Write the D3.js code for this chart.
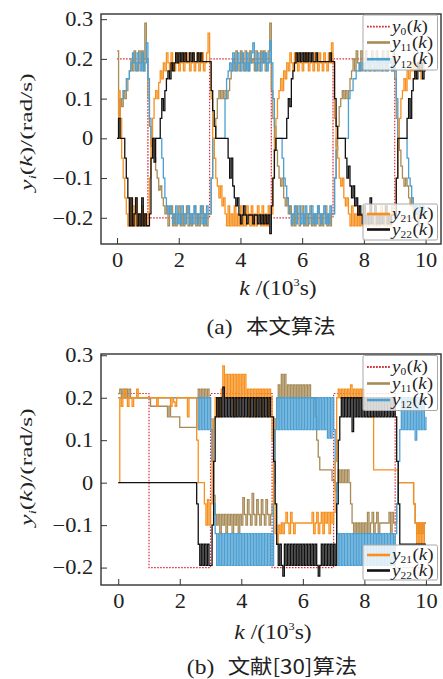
<!DOCTYPE html>
<html><head><meta charset="utf-8">
<script src="https://cdn.jsdelivr.net/npm/d3@7"></script>
<style>body{margin:0;background:#fff} svg{display:block}</style>
</head><body>
<svg id="c" width="443" height="679"></svg>
<script>
// ---------- data ----------
const kStep = 0.05;                       // sampling step of the series, in 10^3 s
const xTicks = [0, 2, 4, 6, 8, 10];
const xTickLabels = ["0", "2", "4", "6", "8", "10"];
const yTicks = [-0.2, -0.1, 0, 0.1, 0.2, 0.3];
const yTickLabels = ["\u22120.2", "\u22120.1", "0", "0.1", "0.2", "0.3"];
const refTimes = [0, 1, 3, 5, 7, 9, 10];
const seriesNames = ["0", "11", "12", "21", "22"];

// panel (a)
const y0_a = [0.2, -0.2, 0.2, -0.2, 0.2, -0.2, -0.2];
const y11_a = [
 .22,.06,.1,.08,.12, .1,.12,.15,.17,.2, .17,.22,.19,.17,.22, .19,.22,.17,.29,.2,
 .1,.03,-.02,0,-.05, -.08,-.1,-.13,-.12,-.15, -.17,-.19,-.17,-.22,-.19, -.17,-.22,-.19,-.22,-.19,
 -.17,-.22,-.19,-.22,-.19, -.17,-.22,-.19,-.22,-.19, -.17,-.22,-.19,-.22,-.19, -.17,-.22,-.19,-.22,-.19,
 -.19,-.1,-.05,0,.05, .1,.12,.1,.12,.1, .12,.1,.12,.15,.17, .2,.17,.22,.19,.17,
 .22,.19,.17,.22,.19, .17,.22,.19,.2,.17, .22,.19,.17,.22,.19, .22,.17,.19,.22,.29,
 .12,.05,0,-.03,-.07, -.1,-.12,-.1,-.15,-.17, -.15,-.19,-.17,-.22,-.19, -.22,-.17,-.19,-.22,-.19,
 -.17,-.22,-.19,-.22,-.19, -.17,-.22,-.19,-.22,-.19, -.17,-.22,-.19,-.22,-.19, -.17,-.22,-.19,-.22,-.19,
 -.19,-.1,-.03,.03,.08, .1,.12,.1,.12,.1, .12,.15,.17,.2,.17, .22,.19,.17,.22,.19,
 .17,.22,.19,.2,.17, .22,.19,.17,.22,.19, .2,.17,.22,.19,.17, .22,.19,.2,.17,.22,
 .15,.05,0,-.03,-.07, -.1,-.12,-.1,-.12,-.15, -.17,-.15,-.19,-.17,-.19, -.22,-.19,-.17,-.19,-.19,
 -.19];
const y12_a = [
 0,.05,.1,.1,.12, .12,.15,.15,.17,.19, .215,.19,.17,.215,.19, .17,.215,.17,.19,.24,
 .15,.05,0,0,0, 0,0,0,0,-.05, -.1,-.15,-.17,-.19,-.17, -.19,-.215,-.19,-.17,-.215,
 -.19,-.215,-.17,-.19,-.215, -.19,-.17,-.215,-.19,-.215, -.17,-.19,-.215,-.19,-.17, -.215,-.19,-.215,-.17,-.19,
 -.19,-.1,0,0,0, 0,0,0,0,0, .1,.15,.17,.19,.17, .215,.19,.17,.215,.19,
 .17,.215,.19,.17,.215, .17,.19,.215,.24,.19, .17,.215,.19,.17,.215, .19,.215,.17,.19,.245,
 .19,.1,.03,0,0, 0,0,-.05,-.1,-.12, -.15,-.17,-.19,-.215,-.19, -.17,-.215,-.19,-.17,-.215,
 -.19,-.215,-.17,-.19,-.215, -.19,-.17,-.215,-.19,-.215, -.17,-.19,-.215,-.19,-.17, -.215,-.19,-.215,-.17,-.19,
 -.19,-.1,0,0,0, 0,0,0,0,0, .1,.12,.12,.15,.15, .17,.17,.19,.17,.19,
 .19,.17,.2,.17,.19, .2,.17,.19,.2,.17, .19,.2,.17,.19,.2, .17,.19,.2,.17,.19,
 .17,.1,0,0,0, 0,0,0,-.05,-.1, -.12,-.15,-.17,-.19,-.17, -.19,-.17,-.19,-.17,-.19,
 -.19];
const y21_a = [
 0,.12,.05,-.05,-.1, -.15,-.19,-.22,-.15,-.22, -.17,-.22,-.15,-.22,-.19, -.22,-.17,-.22,-.19,-.22,
 -.19,-.1,0,.05,.1, .12,.1,.14,.17,.15, .19,.17,.215,.19,.17, .215,.19,.17,.215,.19,
 .17,.215,.19,.17,.215, .19,.215,.17,.19,.215, .17,.19,.215,.17,.19, .215,.17,.19,.215,.265,
 .19,.1,0,-.05,-.1, -.12,-.15,-.12,-.17,-.15, -.19,-.22,-.17,-.22,-.19, -.22,-.17,-.22,-.19,-.22,
 -.17,-.22,-.19,-.22,-.17, -.19,-.22,-.17,-.22,-.19, -.22,-.17,-.19,-.22,-.17, -.22,-.19,-.22,-.17,-.19,
 -.19,-.1,0,.05,.1, .12,.15,.12,.17,.15, .19,.17,.215,.19,.17, .215,.19,.17,.215,.19,
 .17,.215,.19,.215,.17, .19,.215,.17,.215,.19, .17,.215,.19,.17,.215, .19,.17,.215,.19,.24,
 .19,.05,-.02,-.05,-.1, -.12,-.1,-.15,-.17,-.15, -.19,-.22,-.17,-.22,-.19, -.22,-.17,-.22,-.19,-.22,
 -.17,-.22,-.19,-.22,-.17, -.19,-.22,-.17,-.22,-.19, -.22,-.17,-.19,-.22,-.17, -.22,-.19,-.22,-.17,-.19,
 -.19,-.1,0,.05,.1, .12,.15,.12,.17,.15, .19,.17,.19,.15,.19, .17,.19,.15,.19,.17,
 .17];
const y22_a = [
 0,.05,0,0,0, -.05,-.1,-.15,-.22,-.15, -.22,-.19,-.15,-.22,-.19, -.22,-.15,-.22,-.19,-.22,
 -.22,-.19,-.05,0,-.06, 0,0,0,.05,.1, .07,.12,.15,.17,.15, .19,.17,.19,.215,.19,
 .215,.193,.215,.193,.215, .193,.193,.215,.193,.215, .193,.193,.215,.193,.215, .193,.193,.193,.193,.193,
 .193,.12,.07,.03,0, 0,0,0,0,0, 0,0,-.05,-.1,-.05, -.12,-.15,-.17,-.15,-.193,
 -.215,-.193,-.17,-.193,-.215, -.193,-.193,-.193,-.215,-.193, -.193,-.215,-.193,-.215,-.193, -.215,-.193,-.215,-.193,-.24,
 -.17,-.1,-.03,0,0, 0,0,0,0,0, .05,.1,.08,.15,.17, .19,.215,.193,.215,.193,
 .215,.193,.215,.193,.215, .193,.215,.193,.193,.215, .193,.193,.193,.193,.193, .193,.193,.193,.215,.193,
 .193,.1,.03,0,0, 0,0,0,-.05,-.1, -.07,-.12,-.15,-.12,-.17, -.15,-.193,-.17,-.193,-.215,
 -.17,-.215,-.193,-.215,-.15, -.215,-.193,-.17,-.215,-.193, -.215,-.193,-.215,-.193,-.17, -.215,-.193,-.215,-.193,-.193,
 -.193,-.1,0,0,0, 0,0,0,.05,.1, .05,.12,.15,.17,.15, .19,.17,.19,.15,.17,
 .17];

// panel (b)
const y0_b = [0.21, -0.2, 0.21, -0.2, 0.21, -0.2, -0.2];
const y11_b = [
 .21,.22,.2,.22,.2, .22,.2,.22,.2,.2, .2,.2,.2,.2,.2, .2,.2,.2,.2,.2,
 .2,.18,.18,.18,.18, .18,.18,.18,.18,.18, .18,.18,.155,.18,.155, .155,.155,.155,.155,.155,
 .13,.13,.13,.13,.13, .13,.13,.13,.13,.13, .13,.2,.22,.2,.22, .2,.22,.2,.22,.2,
 .15,.05,-.03,-.075,-.1, -.075,-.118,-.075,-.1,-.075, -.118,-.075,-.1,-.075,-.118, -.075,-.1,-.075,-.118,-.075,
 -.1,-.035,-.075,-.1,-.04, -.075,-.1,-.025,-.075,-.1, -.04,-.075,-.1,-.04,-.075, -.1,-.04,-.075,-.1,-.075,
 -.05,.05,.15,.2,.23, .2,.255,.2,.255,.2, .23,.2,.23,.2,.23, .2,.23,.2,.23,.2,
 .23,.2,.23,.2,.23, .2,.2,.2,.155,.1, .06,.03,.03,.03,.03, .03,.03,.03,.03,.005,
 .005,-.02,0,.03,0, .03,0,.03,0,.03, 0,-.05,-.095,-.12,-.095, -.12,-.095,-.12,-.095,-.12,
 -.095,-.12,-.07,-.12,-.095, -.07,-.12,-.095,-.07,-.12, -.095,-.095,-.095,-.095,-.095, -.095,-.07,-.12,-.07,-.095,
 -.095,-.05,0,0,0, 0,0,0,0,0, 0,0,-.05,-.095,-.12, -.095,-.12,-.095,-.12,-.095,
 -.095];
const y12_b = [
 .2,.2,.2,.2,.2, .2,.2,.2,.2,.2, .2,.2,.2,.2,.2, .2,.2,.2,.2,.2,
 .2,.2,.2,.2,.2, .2,.2,.2,.2,.2, .2,.2,.2,.2,.2, .2,.2,.2,.2,.2,
 .2,.2,.2,.2,.2, .2,.2,.2,.2,.2, .2,.2,.125,.2,.125, .2,.125,.2,.125,.2,
 .125,.05,-.05,-.12,-.195, -.12,-.195,-.12,-.195,-.12, -.195,-.12,-.195,-.12,-.195, -.12,-.195,-.12,-.195,-.12,
 -.195,-.12,-.195,-.12,-.195, -.12,-.195,-.12,-.195,-.12, -.195,-.12,-.195,-.12,-.195, -.12,-.195,-.12,-.195,-.12,
 -.195,0,.125,.2,.125, .2,.125,.2,.125,.2, .125,.2,.125,.2,.125, .2,.125,.2,.125,.2,
 .125,.2,.125,.2,.125, .2,.125,.2,.125,.2, .125,.2,.125,.2,.125, .2,.105,.2,.105,.2,
 .125,0,-.12,-.195,-.12, -.195,-.12,-.195,-.12,-.195, -.12,-.195,-.12,-.195,-.12, -.195,-.12,-.195,-.12,-.195,
 -.12,-.195,-.12,-.195,-.12, -.195,-.12,-.195,-.12,-.195, -.12,-.195,-.12,-.195,-.12, -.195,-.12,-.195,-.12,-.195,
 -.12,-.05,.05,.125,.2, .125,.2,.125,.2,.125, .2,.125,.2,.1,.2, .125,.2,.125,.2,.125,
 .155];
const y21_b = [
 0,.2,.18,.2,.22, .2,.18,.2,.2,.18, .2,.2,.22,.2,.2, .2,.2,.2,.2,.2,
 .2,.2,.2,.2,.2, .18,.2,.2,.2,.2, .2,.2,.2,.2,.18, .2,.19,.18,.2,.2,
 .2,.2,.2,.2,.2, .155,.2,.2,.2,.2, .2,.1,0,0,0, 0,-.05,-.1,-.04,-.1,
 -.05,.05,.15,.2,.155, .2,.155,.22,.275,.2, .255,.2,.255,.2,.255, .155,.255,.2,.255,.2,
 .255,.2,.255,.2,.22, .155,.22,.2,.22,.155, .22,.2,.22,.155,.22, .2,.22,.155,.22,.2,
 .1,-.05,-.12,-.145,-.1, -.12,-.095,-.12,-.095,-.07, -.095,-.12,-.07,-.095,-.12, -.095,-.095,-.095,-.095,-.095,
 -.095,-.095,-.095,-.095,-.095, -.095,-.07,-.12,-.095,-.07, -.12,-.095,-.07,-.12,-.07, -.095,-.07,-.12,-.07,-.095,
 -.07,.05,.2,.22,.2, .22,.2,.22,.2,.22, .2,.23,.2,.22,.2, .22,.2,.22,.2,.22,
 .2,.18,.155,.155,.155, .155,.03,.03,.03,.03, .03,.03,.03,.03,.03, .03,.03,.03,.03,.03,
 .03,.03,0,0,0, 0,0,0,0,0, 0,0,-.05,-.095,-.145, -.095,-.145,-.095,-.145,-.095,
 -.095];
const y22_b = [
 0,0,0,0,0, 0,0,0,0,0, 0,0,0,0,0, 0,0,0,0,0,
 0,0,0,0,0, 0,0,0,0,0, 0,0,0,0,0, 0,0,0,0,0,
 0,0,0,0,0, 0,0,0,0,0, 0,-.05,-.145,-.195,-.145, -.195,-.145,-.195,-.145,-.195,
 -.195,-.1,.05,.155,.2, .155,.2,.155,.225,.155, .2,.155,.2,.155,.2, .155,.2,.155,.2,.155,
 .2,.155,.2,.155,.2, .155,.2,.155,.2,.155, .2,.155,.2,.155,.2, .155,.2,.155,.2,.155,
 .155,.05,-.05,-.145,-.195, -.145,-.195,-.22,-.145,-.195, -.145,-.195,-.145,-.195,-.145, -.195,-.145,-.195,-.145,-.195,
 -.145,-.195,-.145,-.195,-.145, -.195,-.145,-.195,-.145,-.195, -.22,-.195,-.145,-.195,-.145, -.195,-.145,-.195,-.145,-.195,
 -.145,-.195,-.05,.1,.155, .2,.155,.2,.155,.2, .155,.2,.12,.2,.155, .2,.155,.2,.155,.2,
 .155,.2,.155,.2,.155, .2,.155,.2,.155,.2, .155,.2,.155,.2,.155, .2,.155,.2,.155,.2,
 .155,.05,-.05,-.145,-.145, -.145,-.145,-.145,-.145,-.145, -.145,-.145,-.145,-.145,-.145, -.145,-.145,-.145,-.145,-.145,
 -.145];

// ---------- drawing ----------
const colors = {"0":"#d8313f","11":"#a78b58","12":"#4a9fd3","21":"#f7901e","22":"#111111"};
const SERIF = '"Liberation Serif", serif';
const CJK = '"Noto Sans CJK SC", sans-serif';
const SX = 1.12; // horizontal stretch of the reference glyphs

const svg = d3.select("#c");

const panels = [
  {top:14, bottom:244, left:101, right:441, xDom:[-0.52,10.5], yDom:[-0.266,0.313],
   y0:y0_a, s:{"11":y11_a,"12":y12_a,"21":y21_a,"22":y22_a},
   xLabX:278, xLabY:295, capY:334, capX:271, cap:["(a)","本文算法"], yLabY:132,
   legTop:{y:15,h:55,rows:[26.7,42.5,59.2]}, legBot:{y:204,h:36,rows:[214,229.5]}},
  {top:354, bottom:585, left:101, right:441, xDom:[-0.56,10.49], yDom:[-0.241,0.303],
   y0:y0_b, s:{"11":y11_b,"12":y12_b,"21":y21_b,"22":y22_b},
   xLabX:273, xLabY:639, capY:674, capX:272, cap:["(b)","文献[30]算法"], yLabY:467,
   legTop:{y:355.5,h:55,rows:[367,383.5,400]}, legBot:{y:545,h:35,rows:[555,570.5]}}
];

function sLabel(t, sub, fs) {
  t.append("tspan").style("font-style","italic").text("y");
  t.append("tspan").style("font-size", (fs*0.6)+"px").attr("dy", fs*0.2).text(sub);
  t.append("tspan").attr("dy", -fs*0.2).attr("dx", 0.5).text("(");
  t.append("tspan").style("font-style","italic").text("k");
  t.append("tspan").text(")");
}

panels.forEach((p, pi) => {
  const g = svg.append("g");
  const x = d3.scaleLinear().domain(p.xDom).range([p.left, p.right]);
  const y = d3.scaleLinear().domain(p.yDom).range([p.bottom, p.top]);

  const clipId = "clip" + pi;
  g.append("clipPath").attr("id", clipId).append("rect")
    .attr("x", p.left).attr("y", p.top).attr("width", p.right - p.left).attr("height", p.bottom - p.top);
  const plot = g.append("g").attr("clip-path", `url(#${clipId})`);

  // reference y0
  const refLine = d3.line().x((d, i) => x(refTimes[i])).y(d => y(d)).curve(d3.curveStepAfter);
  plot.append("path").attr("d", refLine(p.y0)).attr("fill","none")
    .attr("stroke", colors["0"]).attr("stroke-width", 1.2).attr("stroke-dasharray","1.6,1.4");

  const line = d3.line().x((d, i) => x(i * kStep)).y(d => y(d)).curve(d3.curveStepAfter);
  ["11","12","21","22"].forEach(k => {
    plot.append("path").attr("d", line(p.s[k])).attr("fill","none")
      .attr("stroke", colors[k]).attr("stroke-width", 1.3).attr("stroke-linejoin","miter");
  });

  // axes
  const xAxis = d3.axisBottom(x).tickValues(xTicks).tickSize(-6).tickPadding(9)
    .tickFormat((d, i) => xTickLabels[i]);
  const gx = g.append("g").attr("transform", `translate(0,${p.bottom})`).call(xAxis);
  const yAxis = d3.axisLeft(y).tickValues(yTicks).tickSize(-6).tickPadding(7)
    .tickFormat((d, i) => yTickLabels[i]);
  const gy = g.append("g").attr("transform", `translate(${p.left},0)`).call(yAxis);
  [gx, gy].forEach(a => {
    a.attr("font-family", null).attr("font-size", null);
    a.select(".domain").remove();
    a.selectAll(".tick line").attr("stroke","#333").attr("stroke-width",1);
    a.selectAll(".tick text").style("font-family", SERIF).style("font-size","20px")
      .attr("fill","#222").attr("transform", `scale(${SX},1)`);
  });

  // frame
  g.append("rect").attr("x", p.left).attr("y", p.top)
    .attr("width", p.right - p.left).attr("height", p.bottom - p.top)
    .attr("fill","none").attr("stroke","#333").attr("stroke-width",1.4);

  // legends
  function legend(box, keys) {
    const lg = g.append("g");
    lg.append("rect").attr("x", 363).attr("y", box.y).attr("width", 74.5).attr("height", box.h)
      .attr("rx", 1.5).attr("fill","#fff").attr("fill-opacity",0.8)
      .attr("stroke","#a8a8a8").attr("stroke-width",1);
    keys.forEach((k, i) => {
      const ry = box.rows[i];
      const ln = lg.append("line").attr("x1", 367).attr("x2", 390).attr("y1", ry).attr("y2", ry)
        .attr("stroke", colors[k]).attr("stroke-width", k === "0" ? 1.8 : 2.6);
      if (k === "0") ln.attr("stroke-dasharray","1.8,1.2");
      const t = lg.append("g").attr("transform", `translate(392,${ry + 5}) scale(${SX},1)`)
        .append("text").style("font-family", SERIF).style("font-size","17px").attr("fill","#222");
      sLabel(t, k, 17);
    });
  }
  legend(p.legTop, ["0","11","12"]);
  legend(p.legBot, ["21","22"]);

  // x axis label
  const xl = g.append("g").attr("transform", `translate(${p.xLabX},${p.xLabY}) scale(${SX},1)`)
    .append("text").attr("text-anchor","middle").style("font-family", SERIF).style("font-size","21px").attr("fill","#222");
  xl.append("tspan").style("font-style","italic").text("k");
  xl.append("tspan").text(" /(10");
  xl.append("tspan").style("font-size","11px").attr("dy", -9).text("3");
  xl.append("tspan").attr("dy", 9).text("s)");

  // y axis label (glyphs are elongated along the reading direction in the reference)
  const yl = g.append("g").attr("transform", `translate(32,${p.yLabY}) rotate(-90) scale(1.5,1)`)
    .append("text").attr("text-anchor","middle").style("font-family", SERIF).style("font-size","17px").attr("fill","#222");
  yl.append("tspan").style("font-style","italic").text("y");
  yl.append("tspan").style("font-style","italic").style("font-size","10px").attr("dy", 4).text("i");
  yl.append("tspan").attr("dy", -4).text("(");
  yl.append("tspan").style("font-style","italic").text("k");
  yl.append("tspan").text(")/(rad/s)");

  // caption
  const cp = g.append("g").attr("transform", `translate(${p.capX},${p.capY}) scale(${SX},1)`)
    .append("text").attr("text-anchor","middle").style("font-size","20px").attr("fill","#222");
  cp.append("tspan").style("font-family", SERIF).style("font-size","21px").text(p.cap[0]);
  cp.append("tspan").style("font-family", CJK).attr("dx", 12).text(p.cap[1]);
});
</script>
</body></html>
